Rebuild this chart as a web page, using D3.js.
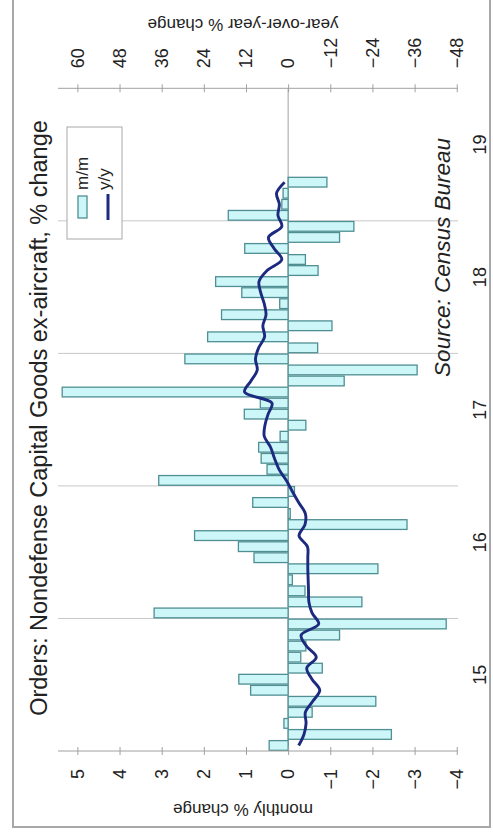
<!DOCTYPE html>
<html>
<head>
<meta charset="utf-8">
<script src="https://cdn.jsdelivr.net/npm/d3@7"></script>
<style>
  body { margin: 0; background: #fff; }
  svg { display: block; }
  text { font-family: "Liberation Sans", Arial, sans-serif; fill: #222; }
</style>
</head>
<body>
<svg id="chart" width="493" height="834"></svg>
<script>
// Core capital goods orders, Jan 2015 onward
const yearLabels = ["15", "16", "17", "18", "19"];
const axisYears = [2015, 2016, 2017, 2018, 2019];
const mmTicks = [5, 4, 3, 2, 1, 0, -1, -2, -3, -4];
const yyTicks = [60, 48, 36, 24, 12, 0, -12, -24, -36, -48];

// month-over-month % change
const mm = [0.45, -2.45, 0.1, -0.57, -2.08, 0.89, 1.17, -0.81, -0.3, -0.42, -1.22, -3.75,
            3.18, -1.75, -0.4, -0.1, -2.13, 0.81, 1.18, 2.22, -2.82, -0.05, 0.84, -0.15,
            3.07, 0.5, 0.64, 0.7, 0.19, -0.42, 1.04, 0.66, 5.36, -1.33, -3.06, 2.45,
            -0.7, 1.91, -1.04, 1.58, 0.2, 1.1, 1.72, -0.71, -0.41, 1.03, -1.22, -1.56,
            1.42, 0.15, 0.12, -0.92];
// year-over-year % change
const yy = [-3.0, -4.5, -5.1, -4.9, -7.0, -9.0, -6.8, -5.3, -8.0, -5.2, -3.7, -8.7,
            -6.8, -5.9, -5.8, -5.7, -5.6, -5.6, -5.5, -3.1, -4.8, -4.9, -3.0, -1.2,
            0.5, 2.6, 3.9, 5.0, 6.8, 6.6, 5.7, 4.6, 12.4, 10.6, 8.8, 9.3,
            8.4, 6.7, 7.2, 6.3, 6.8, 7.8, 8.3, 6.0, 1.8, 4.0, 5.6, 1.8,
            2.9, 2.5, 3.3, 1.0];

const W = 834;   // length of the time direction
const fmt = d3.timeFormat("%Y-%m");
const axisMonths = d3.timeMonth.range(new Date(2015, 0, 1), new Date(2020, 0, 1)).map(fmt);
const data = mm.map((v, i) => ({ key: axisMonths[i], mm: v, yy: yy[i] }));

const svg = d3.select("#chart");

// outer frame
svg.append("rect")
  .attr("x", 13).attr("y", -5).attr("width", 477).attr("height", 832)
  .attr("fill", "none").attr("stroke", "#a8a8a8").attr("stroke-width", 2);

// chart is laid out upright and turned a quarter turn counter-clockwise
const g = svg.append("g").attr("transform", `translate(0,${W}) rotate(-90)`);

const plotL = 83, plotR = 745.7, plotT = 58, plotB = 458;

const x = d3.scaleBand().domain(axisMonths).range([plotL, plotR])
  .paddingInner(0.12).paddingOuter(0.06);
const xYear = d3.scaleBand().domain(axisYears).range([plotL, plotR]);
const yM = d3.scaleLinear().domain([-4.03, 5.46]).range([plotB, plotT]);
const yY = d3.scaleLinear().domain([-48.36, 65.52]).range([plotB, plotT]);

// year gridlines
g.append("g").selectAll("line")
  .data(axisYears.slice(1))
  .join("line")
  .attr("x1", d => xYear(d)).attr("x2", d => xYear(d))
  .attr("y1", plotT).attr("y2", plotB)
  .attr("stroke", "#c8c8c8").attr("stroke-width", 1);

// zero line
g.append("line")
  .attr("x1", plotL).attr("x2", plotR)
  .attr("y1", yM(0)).attr("y2", yM(0))
  .attr("stroke", "#a0a0a0").attr("stroke-width", 1);

// monthly bars
g.append("g").selectAll("rect")
  .data(data)
  .join("rect")
  .attr("x", d => x(d.key))
  .attr("width", x.bandwidth())
  .attr("y", d => Math.min(yM(d.mm), yM(0)))
  .attr("height", d => Math.abs(yM(d.mm) - yM(0)))
  .attr("fill", "#cdf6f8")
  .attr("stroke", "#4f8f93")
  .attr("stroke-width", 1.3);

// year-over-year line
const line = d3.line()
  .x(d => x(d.key) + x.bandwidth() / 2)
  .y(d => yY(d.yy))
  .curve(d3.curveCatmullRom.alpha(0.5));
g.append("path")
  .datum(data)
  .attr("d", line)
  .attr("fill", "none")
  .attr("stroke", "#1c2a80")
  .attr("stroke-width", 2.9);

// axes
function styleAxis(sel) {
  sel.select(".domain").remove();
  sel.selectAll(".tick line").remove();
  sel.selectAll("text").style("font-size", "18px").attr("fill", "#222");
}
function crossTicks(sel) {
  sel.selectAll(".tick").append("line")
    .attr("x1", -4).attr("x2", 4)
    .attr("stroke", "#a0a0a0");
}

const axM = g.append("g").attr("transform", `translate(${plotL},0)`)
  .call(d3.axisLeft(yM).tickValues(mmTicks).tickSize(0).tickPadding(18));
styleAxis(axM); crossTicks(axM);
g.append("line").attr("x1", plotL).attr("x2", plotL).attr("y1", plotT).attr("y2", plotB)
  .attr("stroke", "#a0a0a0");

const axY = g.append("g").attr("transform", `translate(${plotR},0)`)
  .call(d3.axisRight(yY).tickValues(yyTicks).tickSize(0).tickPadding(20));
styleAxis(axY); crossTicks(axY);
g.append("line").attr("x1", plotR).attr("x2", plotR).attr("y1", plotT).attr("y2", plotB)
  .attr("stroke", "#a0a0a0");

// year labels sit slightly past the middle of each year
const axT = g.append("g").attr("transform", `translate(10,${plotB})`)
  .call(d3.axisBottom(xYear).tickFormat((d, i) => yearLabels[i]).tickSize(0).tickPadding(15));
styleAxis(axT);

// axis titles
g.append("text")
  .attr("transform", "translate(30,243) rotate(-90)")
  .attr("text-anchor", "middle").style("font-size", "17px")
  .text("monthly % change");
g.append("text")
  .attr("transform", "translate(815,243) rotate(-90)")
  .attr("text-anchor", "middle").style("font-size", "17px")
  .text("year-over-year % change");

// title and source
g.append("text")
  .attr("x", 416).attr("y", 47)
  .attr("text-anchor", "middle").style("font-size", "23.5px")
  .text("Orders: Nondefense Capital Goods ex-aircraft, % change");
g.append("text")
  .attr("x", 696).attr("y", 450)
  .attr("text-anchor", "end").style("font-size", "22.5px").style("font-style", "italic")
  .text("Source: Census Bureau");

// legend
const lg = g.append("g");
lg.append("rect")
  .attr("x", 595).attr("y", 67).attr("width", 112).attr("height", 55)
  .attr("fill", "#fff").attr("stroke", "#a8a8a8");
lg.append("rect")
  .attr("x", 616).attr("y", 78).attr("width", 22).attr("height", 9)
  .attr("fill", "#cdf6f8").attr("stroke", "#4f8f93").attr("stroke-width", 1.3);
lg.append("text").attr("x", 644).attr("y", 88).style("font-size", "17px").text("m/m");
lg.append("line")
  .attr("x1", 614).attr("x2", 640).attr("y1", 108).attr("y2", 108)
  .attr("stroke", "#1c2a80").attr("stroke-width", 3);
lg.append("text").attr("x", 644).attr("y", 110).style("font-size", "17px").text("y/y");
</script>
</body>
</html>
